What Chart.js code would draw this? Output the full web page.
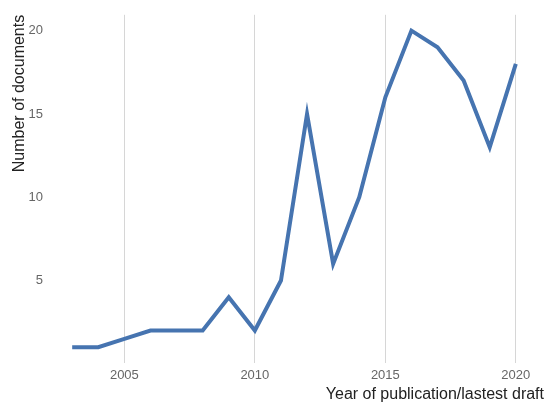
<!DOCTYPE html>
<html>
<head>
<meta charset="utf-8">
<script src="https://cdn.jsdelivr.net/npm/chart.js@4.4.1/dist/chart.umd.min.js"></script>
<style>
  html, body { margin: 0; padding: 0; background: #fff; }
  #wrap { width: 545px; height: 406px; }
</style>
</head>
<body>
<div id="wrap"><canvas id="doc_chart"></canvas></div>
<script>
// chart data
const years = [2003, 2004, 2005, 2006, 2007, 2008, 2009, 2010, 2011, 2012, 2013, 2014, 2015, 2016, 2017, 2018, 2019, 2020];
const documents = [1, 1, 1.5, 2, 2, 2, 4, 2, 5, 15, 6, 10, 16, 20, 19, 17, 13, 18];
const x_ticks = [2005, 2010, 2015, 2020];
const y_ticks = [5, 10, 15, 20];

const points = years.map((year, i) => ({ x: year, y: documents[i] }));
const tick_font = { family: "'Liberation Sans', Arial, sans-serif", size: 13 };
const title_font = { family: "'Liberation Sans', Arial, sans-serif", size: 16 };

const doc_chart = new Chart("doc_chart", {
    type: "line",
    data: {
        datasets: [{
            label: "documents",
            data: points,
            fill: false,
            pointRadius: 0,
            borderWidth: 4,
            borderColor: "rgb(70, 116, 176)",
            tension: 0
        }]
    },
    options: {
        animation: false,
        responsive: true,
        maintainAspectRatio: false,
        layout: { padding: { top: 7, right: 1, left: 0, bottom: 0 } },
        plugins: {
            legend: { display: false },
            tooltip: { enabled: false }
        },
        scales: {
            x: {
                type: "linear",
                min: 2002.15,
                max: 2021.08,
                afterBuildTicks: (axis) => { axis.ticks = x_ticks.map(v => ({ value: v })); },
                afterFit: (axis) => { axis.height = 43; },
                grid: { display: true, color: "#d6d6d6", lineWidth: 1, drawTicks: false },
                border: { display: false },
                ticks: {
                    color: "#666",
                    font: tick_font,
                    padding: 5,
                    maxRotation: 0,
                    callback: (value) => String(value)
                },
                title: {
                    display: true,
                    text: "Year of publication/lastest draft",
                    align: "end",
                    color: "#222",
                    font: title_font,
                    padding: { top: 0, bottom: 2 }
                }
            },
            y: {
                min: 0.05,
                max: 20.95,
                afterBuildTicks: (axis) => { axis.ticks = y_ticks.map(v => ({ value: v })); },
                afterFit: (axis) => { axis.width = 50; },
                grid: { display: false, drawTicks: false },
                border: { display: false },
                ticks: {
                    color: "#666",
                    font: tick_font,
                    padding: 7
                },
                title: {
                    display: true,
                    text: "Number of documents",
                    align: "end",
                    color: "#222",
                    font: title_font,
                    padding: { top: 10, bottom: 4 }
                }
            }
        }
    }
});
</script>
</body>
</html>
